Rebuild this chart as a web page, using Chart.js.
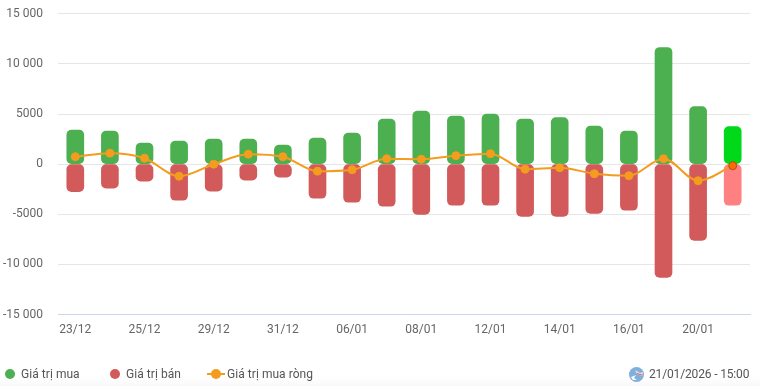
<!DOCTYPE html>
<html>
<head>
<meta charset="utf-8">
<title>Giá trị giao dịch</title>
<script src="https://cdn.jsdelivr.net/npm/chart.js@4"></script>
<style>
  html, body { margin: 0; padding: 0; background: #fff; }
  #wrap { position: relative; width: 760px; height: 386px; overflow: hidden; font-family: Roboto, sans-serif; }
  canvas { position: absolute; left: 0; top: 0; }
  #fade { position: absolute; left: 0; top: 376px; width: 760px; height: 10px; background: linear-gradient(#fff, #f9f9f9); }
  .lg { position: absolute; top: 366px; font-size: 12px; line-height: 16px; color: #555; white-space: nowrap; }
  .dot { position: absolute; top: 369px; width: 10px; height: 10px; border-radius: 50%; }
  #netLine { position: absolute; left: 207px; top: 373px; width: 18px; height: 2px; background: #f39c1e; }
  #netDot { position: absolute; left: 211px; top: 369px; width: 10px; height: 10px; border-radius: 50%; background: #f39c1e; }
  #icon { position: absolute; left: 629px; top: 367px; }
</style>
</head>
<body>
<div id="wrap">
  <canvas id="flowChart" width="760" height="386"></canvas>
  <div id="fade"></div>
  <span class="dot" style="left:5px;background:#4caf50"></span>
  <span class="lg" style="left:21px;letter-spacing:0.05px">Giá trị mua</span>
  <span class="dot" style="left:110px;background:#d35a5a"></span>
  <span class="lg" style="left:126px;letter-spacing:0.05px">Giá trị bán</span>
  <span id="netLine"></span><span id="netDot"></span>
  <span class="lg" style="left:227px;letter-spacing:0.05px">Giá trị mua ròng</span>
  <svg id="icon" width="15" height="15" viewBox="0 0 15 15">
    <circle cx="7.5" cy="7.5" r="7.5" fill="#7fb0dc"/>
    <path d="M6 3 L11 6 L14 5 L13 9 L8 7 Z" fill="#f3dcdc"/>
    <path d="M8 6.5 L13 8" stroke="#d9606a" stroke-width="1"/>
    <path d="M2 10 L7 8 L5 11 L8 13 L4 13 Z" fill="#fff"/>
  </svg>
  <span class="lg" style="left:649px;letter-spacing:-0.15px">21/01/2026 - 15:00</span>
</div>
<script>
const categories = ["23/12", "24/12", "25/12", "26/12", "29/12", "30/12", "31/12", "05/01", "06/01", "07/01",
  "08/01", "09/01", "12/01", "13/01", "14/01", "15/01", "16/01", "19/01", "20/01", "21/01"];
const buyValues = [3400, 3300, 2100, 2300, 2500, 2500, 1900, 2600, 3100, 4500,
  5300, 4800, 5000, 4500, 4650, 3800, 3300, 11650, 5750, 3750];
const sellValues = [-2750, -2400, -1700, -3600, -2700, -1600, -1300, -3400, -3800, -4200,
  -5000, -4100, -4100, -5200, -5200, -4900, -4600, -11300, -7600, -4100];
const netValues = [750, 1100, 600, -1200, 0, 1000, 750, -700, -550, 550,
  500, 850, 1050, -500, -350, -950, -1150, 550, -1650, -150];
const yTicks = [-15000, -10000, -5000, 0, 5000, 10000, 15000];

const lastIdx = categories.length - 1;

function formatTick(v) {
  const abs = Math.abs(v);
  if (abs < 10000) return String(v);
  return (v < 0 ? "-" : "") + Math.floor(abs / 1000) + " " + String(abs % 1000).padStart(3, "0");
}

new Chart(document.getElementById("flowChart"), {
  data: {
    labels: categories,
    datasets: [
      {
        type: "line",
        label: "Giá trị mua ròng",
        data: netValues,
        order: 0,
        borderColor: "#f39c1e",
        borderWidth: 2,
        cubicInterpolationMode: "monotone",
        pointRadius: 4,
        pointBackgroundColor: categories.map((c, i) => i === lastIdx ? "#ff6a00" : "#f39c1e"),
        pointBorderColor: categories.map((c, i) => i === lastIdx ? "#a5561c" : "#f39c1e"),
        pointBorderWidth: 1
      },
      {
        type: "bar",
        label: "Giá trị mua",
        data: buyValues,
        order: 1,
        stack: "flow",
        barThickness: 17,
        borderRadius: 5,
        borderSkipped: false,
        backgroundColor: categories.map((c, i) => i === lastIdx ? "#00d81a" : "#4caf50")
      },
      {
        type: "bar",
        label: "Giá trị bán",
        data: sellValues,
        order: 1,
        stack: "flow",
        barThickness: 17,
        borderRadius: 5,
        borderSkipped: false,
        backgroundColor: categories.map((c, i) => i === lastIdx ? "#ff8080" : "#d35a5a")
      }
    ]
  },
  options: {
    responsive: false,
    animation: false,
    layout: { padding: { top: 13.9, right: 10, bottom: 0, left: 0 } },
    plugins: { legend: { display: false }, tooltip: { enabled: false } },
    scales: {
      x: {
        stacked: true,
        afterFit: scale => { scale.height = 71.5; },
        grid: { display: false },
        border: { color: "#ccd6eb" },
        ticks: {
          autoSkip: false,
          maxRotation: 0,
          padding: 0,
          color: "#666",
          font: { family: "Roboto", size: 12 },
          callback: function (v, i) { return i % 2 === 0 ? categories[i] : ""; }
        }
      },
      y: {
        stacked: true,
        min: yTicks[0],
        max: yTicks[yTicks.length - 1],
        // tick padding would otherwise push the plot area down
        afterFit: scale => { scale.width = 58; scale.paddingTop = 0; scale.paddingBottom = 0; },
        afterBuildTicks: scale => { scale.ticks = yTicks.map(v => ({ value: v })); },
        grid: { color: "#e6e6e6", drawTicks: false },
        border: { display: false },
        ticks: {
          padding: 15,
          color: "#666",
          font: { family: "Roboto", size: 12 },
          callback: v => formatTick(v)
        }
      }
    }
  }
});
</script>
</body>
</html>
